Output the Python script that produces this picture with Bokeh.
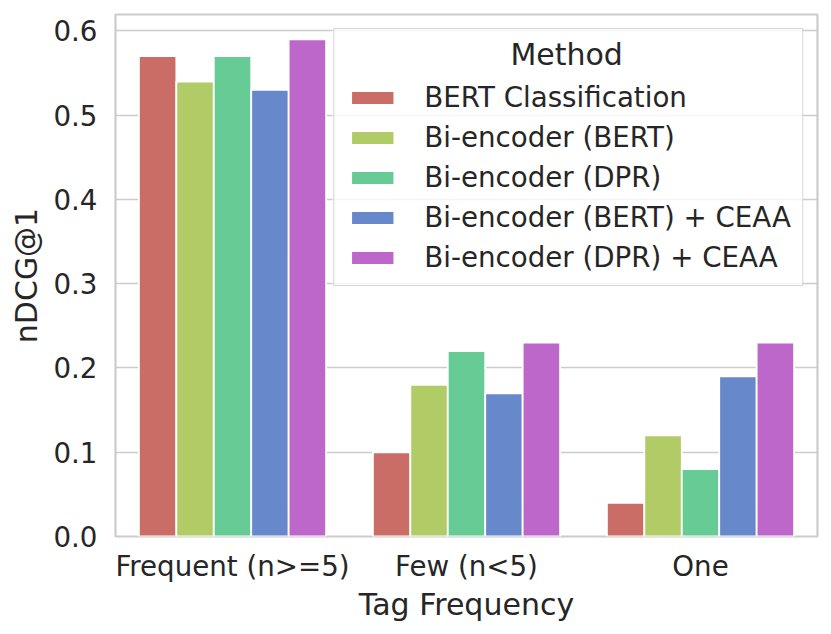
from bokeh.plotting import figure
from bokeh.models import (ColumnDataSource, Range1d, FixedTicker, Label, PrintfTickFormatter,
                          BoxAnnotation)
from bokeh.transform import dodge
from bokeh.embed import file_html
from bokeh.resources import INLINE

# ---- data ----
categories = ["Frequent (n>=5)", "Few (n<5)", "One"]
methods = ["BERT Classification", "Bi-encoder (BERT)", "Bi-encoder (DPR)",
           "Bi-encoder (BERT) + CEAA", "Bi-encoder (DPR) + CEAA"]
bert_classification = [0.57, 0.10, 0.04]
biencoder_bert = [0.54, 0.18, 0.12]
biencoder_dpr = [0.57, 0.22, 0.08]
biencoder_bert_ceaa = [0.53, 0.17, 0.19]
biencoder_dpr_ceaa = [0.59, 0.23, 0.23]
colors = ["#cb6d67", "#b1cb67", "#67cb95", "#6789cb", "#bd67cb"]
y_ticks = [0.0, 0.1, 0.2, 0.3, 0.4, 0.5, 0.6]

series = [bert_classification, biencoder_bert, biencoder_dpr, biencoder_bert_ceaa, biencoder_dpr_ceaa]
keys = ["m0", "m1", "m2", "m3", "m4"]

data = {"x": list(range(len(categories)))}
for k, s in zip(keys, series):
    data[k] = s
src = ColumnDataSource(data)

FONT = "DejaVu Sans"
TXT = "#262626"

p = figure(width=831, height=634,
           x_range=Range1d(-0.5, len(categories) - 0.5),
           y_range=Range1d(0, max(max(s) for s in series) * 1.05),
           output_backend="svg", toolbar_location=None,
           min_border_left=115, min_border_right=14, min_border_top=14, min_border_bottom=98)
p.background_fill_color = "white"
p.border_fill_color = "white"
p.outline_line_color = "#cccccc"
p.outline_line_width = 2.2

n = len(methods)
bar_w = 0.8 / n
for j, (k, m) in enumerate(zip(keys, methods)):
    p.vbar(x=dodge("x", (j - (n - 1) / 2) * bar_w), top=k, width=bar_w, bottom=0,
           source=src, fill_color=colors[j], line_color="white", line_width=1.8,
           legend_label=m)

# axes
p.xaxis.ticker = FixedTicker(ticks=list(range(len(categories))))
p.xaxis.major_label_overrides = {i: c for i, c in enumerate(categories)}
p.yaxis.ticker = FixedTicker(ticks=y_ticks)
p.yaxis.formatter = PrintfTickFormatter(format="%.1f")
p.xaxis.axis_label = "Tag Frequency"
p.yaxis.axis_label = "nDCG@1"
for ax in p.axis:
    ax.axis_line_color = None
    ax.major_tick_line_color = None
    ax.minor_tick_line_color = None
    ax.major_tick_out = 0
    ax.major_tick_in = 0
    ax.major_label_text_font = FONT
    ax.major_label_text_font_size = "27.7px"
    ax.major_label_text_color = TXT
    ax.axis_label_text_font = FONT
    ax.axis_label_text_font_size = "30px"
    ax.axis_label_text_font_style = "normal"
    ax.axis_label_text_color = TXT
p.xaxis.major_label_standoff = 13
p.xaxis.axis_label_standoff = 1
p.yaxis.major_label_standoff = 18
p.yaxis.axis_label_standoff = 6

p.xgrid.visible = False
p.ygrid.grid_line_color = "#cccccc"
p.ygrid.grid_line_width = 1.6

# legend (transparent fill; a translucent white panel sits beneath it)
leg = p.legend[0]
leg.location = "top_right"
leg.title = " "
leg.title_text_font_size = "30px"
leg.title_standoff = 7
leg.label_text_font = FONT
leg.label_text_font_size = "27.7px"
leg.label_text_color = TXT
leg.glyph_width = 54
leg.glyph_height = 17
leg.label_standoff = 25
leg.spacing = 7
leg.padding = 11
leg.margin = 14
leg.border_line_color = "#cccccc"
leg.border_line_alpha = 0.8
leg.background_fill_alpha = 0.0

p.add_layout(BoxAnnotation(left=0.428, right=2.437, bottom=0.2985, top=0.6025,
                           fill_color="white", fill_alpha=0.8, line_color=None))
p.add_layout(Label(x=1.428, y=0.5725, text="Method", text_align="center",
                   text_baseline="alphabetic", text_font=FONT, text_font_size="30px",
                   text_color=TXT))

open("out.html", "w").write(file_html(p, INLINE))
